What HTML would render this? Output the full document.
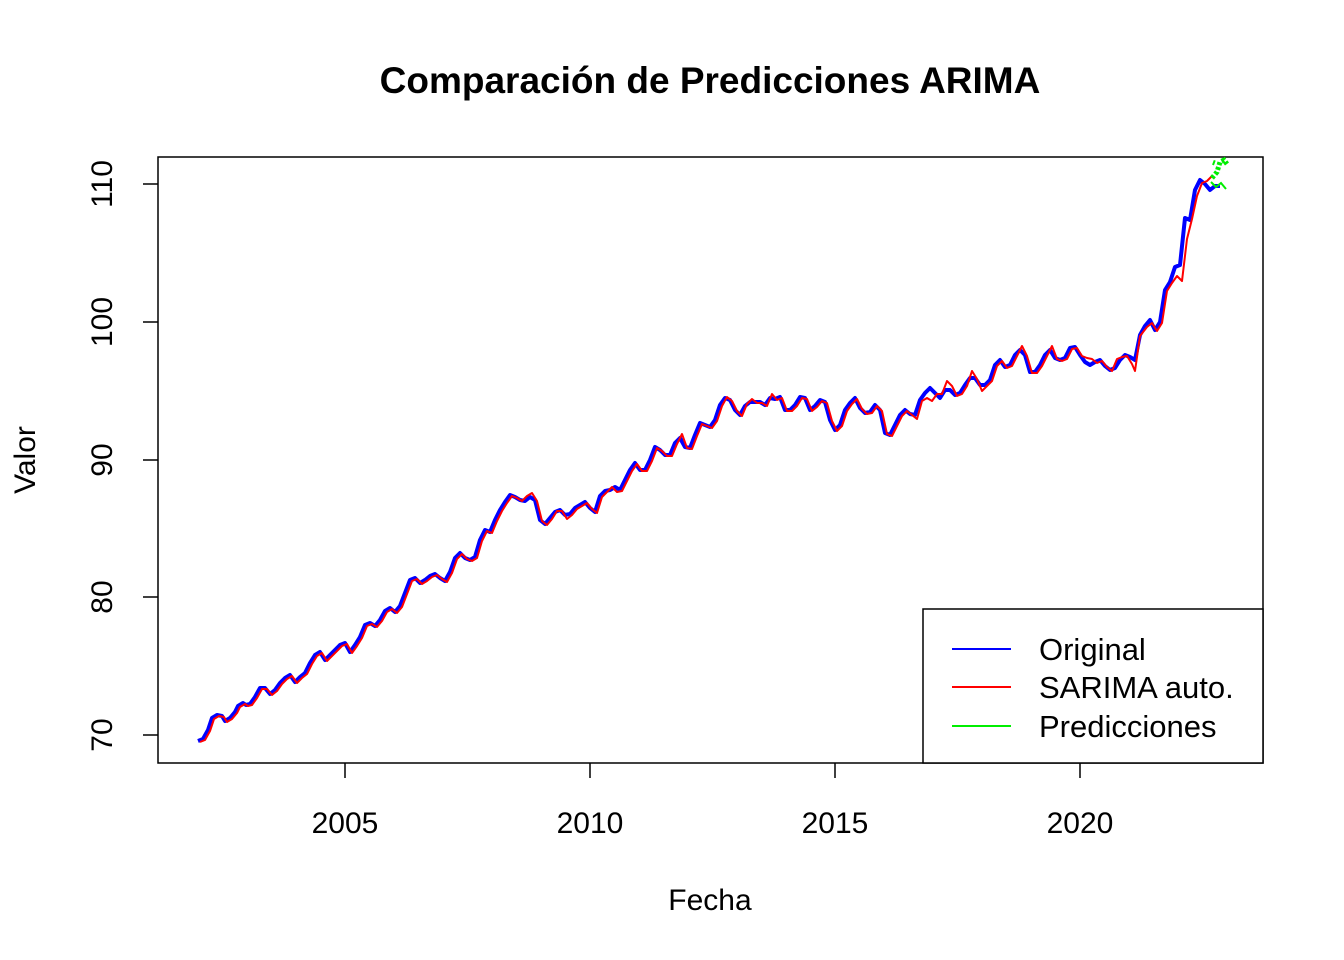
<!DOCTYPE html>
<html><head><meta charset="utf-8"><style>body{margin:0;background:#fff}svg{display:block}text{font-family:"Liberation Sans",Arial,sans-serif}</style></head><body>
<svg width="1344" height="960" viewBox="0 0 1344 960" xmlns="http://www.w3.org/2000/svg">
<text x="710" y="93" font-size="37" font-weight="bold" text-anchor="middle">Comparación de Predicciones ARIMA</text>
<rect x="158" y="157" width="1105" height="606" fill="none" stroke="#000" stroke-width="1.5"/>
<g stroke="#000" stroke-width="1.5">
<line x1="345" y1="763" x2="345" y2="778"/><line x1="590" y1="763" x2="590" y2="778"/><line x1="835" y1="763" x2="835" y2="778"/><line x1="1080" y1="763" x2="1080" y2="778"/>
<line x1="158" y1="184" x2="143" y2="184"/><line x1="158" y1="322" x2="143" y2="322"/><line x1="158" y1="460" x2="143" y2="460"/><line x1="158" y1="597" x2="143" y2="597"/><line x1="158" y1="735" x2="143" y2="735"/>
</g>
<g font-size="30" text-anchor="middle">
<text x="345" y="833">2005</text><text x="590" y="833">2010</text><text x="835" y="833">2015</text><text x="1080" y="833">2020</text>
<text x="710" y="910">Fecha</text>
<text transform="translate(112,184) rotate(-90)">110</text>
<text transform="translate(112,322) rotate(-90)">100</text>
<text transform="translate(112,460) rotate(-90)">90</text>
<text transform="translate(112,597) rotate(-90)">80</text>
<text transform="translate(112,735) rotate(-90)">70</text>
<text transform="translate(35,460) rotate(-90)">Valor</text>
</g>
<polyline fill="none" stroke="#0000ff" stroke-width="4" stroke-linejoin="round" points="198,741 203,739 208,730 212,718 217,715 222,716 225,721 230,718 235,712 238,706 243,703 246,705 250,704 255,697 260,688 265,688 270,694 275,690 280,683 285,678 290,675 295,682 300,677 305,673 310,663 315,655 320,652 325,660 330,655 335,650 340,645 345,643 350,652 355,645 360,637 365,625 370,623 375,626 380,620 385,611 390,608 395,612 400,606 405,593 410,580 415,578 420,583 425,580 430,576 435,574 440,578 445,581 450,572 455,558 460,553 465,558 470,560 475,557 480,540 485,530 490,532 495,520 500,510 505,502 510,495 515,497 520,500 525,501 530,497 535,500 540,520 545,524 550,518 555,512 560,510 565,515 570,514 575,508 580,505 585,502 590,508 595,512 600,496 605,491 610,490 615,487 620,490 625,480 630,470 635,463 640,470 645,470 650,460 655,447 660,450 665,455 670,455 675,443 680,438 685,447 690,448 695,435 700,423 705,425 710,427 715,420 720,405 725,398 730,400 735,410 740,415 745,406 750,402 755,402 760,402 765,405 770,398 775,399 780,397 785,410 790,410 795,405 800,397 805,398 810,410 815,406 820,400 825,402 830,420 835,430 840,425 845,410 850,403 855,398 860,408 865,413 870,412 875,405 880,410 885,433 890,435 895,425 900,415 905,410 910,414 915,415 920,400 925,393 930,388 935,393 940,398 945,390 950,390 955,395 960,393 965,385 970,378 975,378 980,385 985,385 990,380 995,365 1000,360 1005,367 1010,365 1015,355 1020,350 1025,355 1030,372 1035,372 1040,365 1045,355 1050,350 1055,358 1060,360 1065,358 1070,348 1075,347 1080,355 1085,362 1090,365 1095,362 1100,360 1105,366 1110,370 1115,368 1120,360 1125,355 1130,357 1135,360 1140,335 1145,326 1150,320 1155,330 1160,322 1165,290 1170,282 1175,267 1180,265 1185,218 1190,220 1195,190 1200,180 1205,184 1210,190 1215,186 1220,186"/>
<polyline transform="translate(2,1)" fill="none" stroke="#ff0000" stroke-width="2" stroke-linejoin="round" points="198,741 203,739 208,730 212,718 217,715 222,716 225,721 230,718 235,712 238,706 243,703 246,705 250,704 255,697 260,688 265,688 270,694 275,690 280,683 285,678 290,675 295,682 300,677 305,673 310,663 315,655 320,652 325,660 330,655 335,650 340,645 345,643 350,652 355,645 360,637 365,625 370,623 375,626 380,620 385,611 390,608 395,612 400,606 405,593 410,580 415,578 420,583 425,580 430,576 435,574 440,578 445,581 450,572 455,558 460,553 465,558 470,560 475,557 480,540 485,530 490,532 495,520 500,510 505,502 510,495 515,497 520,500 525,495 530,492 535,500 540,520 545,524 550,518 555,510 560,510 565,518 570,514 575,508 580,505 585,502 590,508 595,512 600,496 605,491 610,486 615,491 620,490 625,480 630,470 635,463 640,470 645,470 650,460 655,447 660,450 665,455 670,455 675,443 680,433 685,447 690,448 695,435 700,423 705,425 710,427 715,420 720,405 725,396 730,400 735,410 740,415 745,403 750,398 755,402 760,402 765,405 770,393 775,399 780,397 785,410 790,410 795,405 800,397 805,398 810,410 815,406 820,400 825,402 830,420 835,430 840,425 845,410 850,403 855,398 860,408 865,413 870,412 875,405 880,410 885,433 890,435 895,425 900,415 905,410 910,414 915,418 920,400 925,397 930,400 935,393 940,393 945,380 950,385 955,395 960,393 965,385 970,370 975,378 980,390 985,385 990,380 995,365 1000,360 1005,367 1010,365 1015,355 1020,345 1025,355 1030,372 1035,372 1040,365 1045,355 1050,345 1055,358 1060,360 1065,358 1070,348 1075,347 1080,355 1085,357 1090,358 1095,362 1100,360 1105,366 1110,370 1115,358 1120,356 1125,355 1130,363 1133,370 1138,335 1145,326 1150,322 1155,330 1160,322 1165,290 1170,282 1175,275 1180,280 1185,238 1190,218 1195,195 1200,182 1205,180 1210,175"/>
<g fill="none" stroke="#00ee00" stroke-width="2">
<polyline points="1211,182 1216,187 1221,183 1226,189" />
<polyline stroke-dasharray="5,4" points="1213,165 1216,157" />
<polyline stroke-width="5" stroke-dasharray="3,2" points="1212,178 1217,172 1220,162 1224,160 1227,164"/>
</g>
<rect x="923" y="609" width="340" height="154" fill="#fff" stroke="#000" stroke-width="1.5"/>
<line x1="952" y1="649" x2="1011" y2="649" stroke="#0000ff" stroke-width="2"/>
<line x1="952" y1="687" x2="1011" y2="687" stroke="#ff0000" stroke-width="2"/>
<line x1="952" y1="726" x2="1011" y2="726" stroke="#00ee00" stroke-width="2"/>
<g font-size="31">
<text x="1039" y="660">Original</text>
<text x="1039" y="698">SARIMA auto.</text>
<text x="1039" y="737">Predicciones</text>
</g>
</svg>
</body></html>
